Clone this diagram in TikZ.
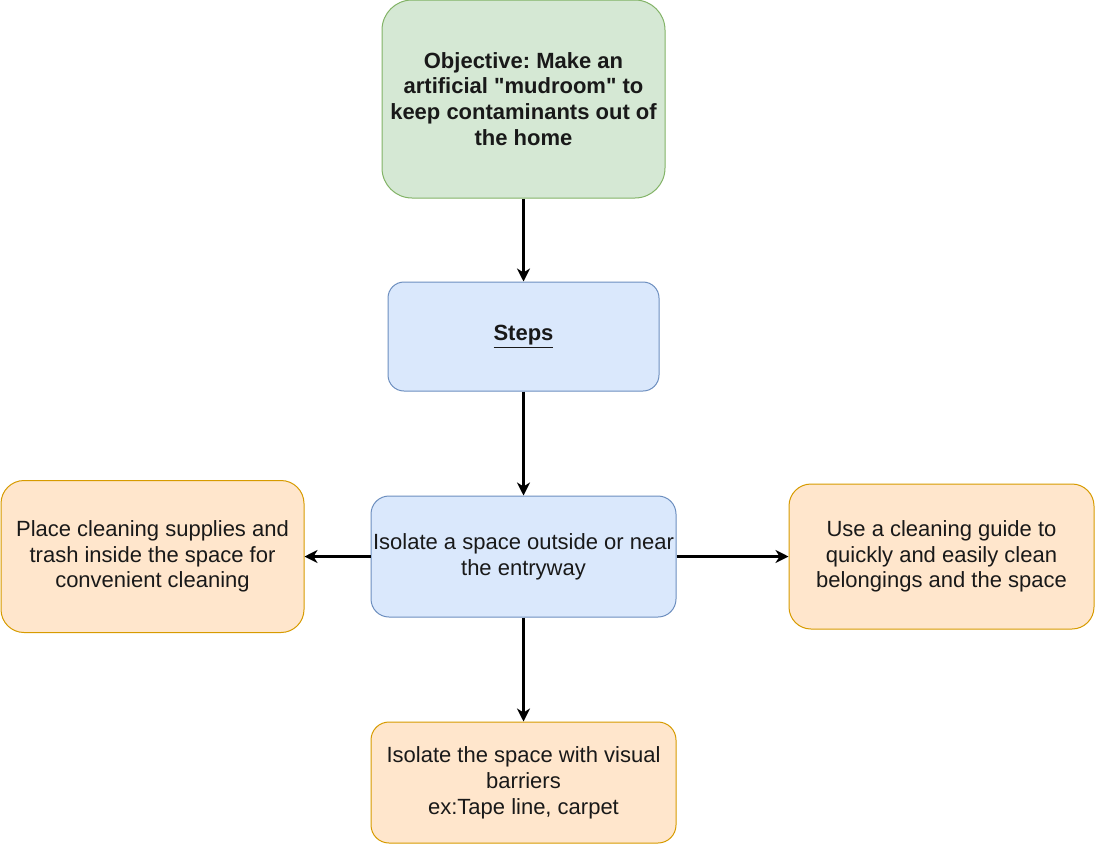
\documentclass[tikz,border=0pt]{standalone}
\usepackage{fontspec}
\defaultfontfeatures[\rmfamily]{}
\setmainfont{Liberation Sans}
\newcommand\dq{\XeTeXglyph\XeTeXglyphindex "quotedbl"\relax}
\frenchspacing
\usetikzlibrary{arrows.meta}
\definecolor{gfill}{HTML}{D5E8D4}
\definecolor{gline}{HTML}{82B366}
\definecolor{bfill}{HTML}{DAE8FC}
\definecolor{bline}{HTML}{6C8EBF}
\definecolor{ofill}{HTML}{FFE6CC}
\definecolor{oline}{HTML}{D79B00}
\tikzset{
  box/.style={draw, line width=1pt, inner sep=0pt, align=center,
    font=\fontsize{22}{25.8}\selectfont, text=black!90},
  greenbox/.style={box, fill=gfill, draw=gline},
  bluebox/.style={box, fill=bfill, draw=bline},
  orangebox/.style={box, fill=ofill, draw=oline},
  conn/.style={line width=2.6pt, -{Stealth[length=13pt,width=13pt,inset=4pt]}}
}
\begin{document}
\begin{tikzpicture}[x=1pt,y=-1pt]
\useasboundingbox (0,0) rectangle (1095,844);
\node[greenbox, rounded corners=30pt, minimum width=283pt, minimum height=198pt] (obj) at (523.5,99)
  {\bfseries Objective: Make an\\\bfseries artificial \dq mudroom\dq{} to\\\bfseries keep contaminants out of\\\bfseries the home};
\node[bluebox, rounded corners=16pt, minimum width=271pt, minimum height=109pt] (steps) at (523.5,336.5)
  {\bfseries\underline{Steps}};
\node[bluebox, rounded corners=18pt, minimum width=305pt, minimum height=121pt] (iso) at (523.5,556.5)
  {Isolate a space outside or near\\the entryway};
\node[orangebox, rounded corners=23pt, minimum width=303pt, minimum height=152pt] (left) at (152.5,556.5)
  {Place cleaning supplies and\\trash inside the space for\\convenient cleaning};
\node[orangebox, rounded corners=22pt, minimum width=305pt, minimum height=145pt] (right) at (941.5,556.5)
  {Use a cleaning guide to\\quickly and easily clean\\belongings and the space};
\node[orangebox, rounded corners=18pt, minimum width=305pt, minimum height=121pt] (bot) at (523.5,782.5)
  {Isolate the space with visual\\barriers\\ex:Tape line, carpet};
\draw[conn] (obj) -- (steps);
\draw[conn] (steps) -- (iso);
\draw[conn] (iso) -- (left);
\draw[conn] (iso) -- (right);
\draw[conn] (iso) -- (bot);
\end{tikzpicture}
\end{document}
